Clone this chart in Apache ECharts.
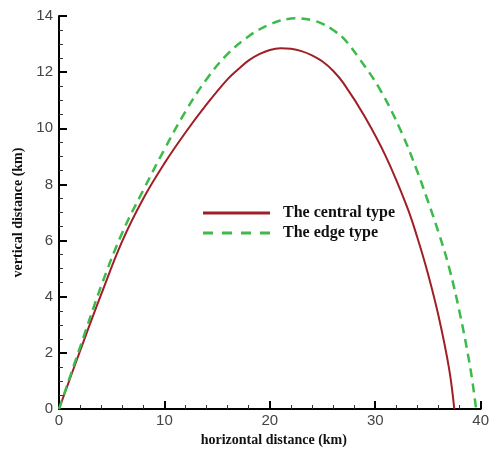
<!DOCTYPE html>
<html>
<head>
<meta charset="utf-8">
<script src="https://cdn.jsdelivr.net/npm/echarts@6/dist/echarts.min.js"></script>
<style>
  html, body { margin: 0; padding: 0; background: #fff; }
  #chart { width: 492px; height: 454px; }
</style>
</head>
<body>
<div id="chart"></div>
<script>
// Trajectory of the central type (horizontal km, vertical km)
const centralX = [0, 2, 4, 6, 8, 10, 12, 14, 16, 17, 18, 19, 20, 21, 22, 23, 24, 25, 26, 27, 29, 31, 33, 34, 35, 36, 37, 37.5];
const centralY = [0, 2.07, 4.08, 5.98, 7.5, 8.75, 9.85, 10.85, 11.75, 12.1, 12.42, 12.64, 12.79, 12.85, 12.83, 12.75, 12.6, 12.38, 12.05, 11.6, 10.42, 9.0, 7.22, 6.1, 4.82, 3.32, 1.45, 0];

// Trajectory of the edge type
const edgeX = [0, 2, 4, 6, 8, 10, 12, 14, 16, 18, 19, 20, 21, 22, 22.5, 23, 24, 25, 26, 27, 28.5, 30.5, 32.5, 34, 35, 36, 37, 38, 39, 39.57];
const edgeY = [0, 2.2, 4.38, 6.28, 7.8, 9.25, 10.6, 11.75, 12.65, 13.28, 13.52, 13.7, 13.84, 13.91, 13.92, 13.91, 13.85, 13.72, 13.5, 13.2, 12.48, 11.35, 9.85, 8.45, 7.4, 6.3, 5.05, 3.45, 1.5, 0];

const seriesNames = ['The central type', 'The edge type'];
const xTicks = { min: 0, max: 40, interval: 10 };
const yTicks = { min: 0, max: 14, interval: 2 };

const zip = (xs, ys) => xs.map((x, i) => [x, ys[i]]);

const RED = '#a01e26';
const GREEN = '#3dbb4a';

const serifBold = { fontFamily: 'Liberation Serif', fontWeight: 'bold', color: '#111' };
const axisCommon = {
  type: 'value',
  axisLine: { show: true, onZero: false, lineStyle: { color: '#000', width: 2 } },
  axisTick: { show: true, inside: true, length: 8, lineStyle: { color: '#000', width: 2 } },
  minorTick: { show: true, length: 4, lineStyle: { color: '#333', width: 1 } },
  splitLine: { show: false },
  axisLabel: { fontFamily: 'Liberation Sans', fontSize: 15, color: '#444' },
  nameLocation: 'middle',
  nameTextStyle: Object.assign({ fontSize: 14 }, serifBold)
};

// Legend glyphs: a solid bar and a four-dash bar
const solidIcon = 'path://M0,0h67v3h-67z';
const dashIcon = 'path://M0,0h10v3h-10zM19,0h10v3h-10zM38,0h10v3h-10zM57,0h10v3h-10z';

const chart = echarts.init(document.getElementById('chart'), null, { renderer: 'canvas' });
chart.setOption({
  animation: false,
  backgroundColor: '#fff',
  grid: { left: 59, right: 5, top: 16, bottom: 45, containLabel: false },
  xAxis: Object.assign({}, axisCommon, {
    min: xTicks.min, max: xTicks.max, interval: xTicks.interval,
    name: 'horizontal distance (km)', nameGap: 21,
    nameTextStyle: Object.assign({}, axisCommon.nameTextStyle, { padding: [0, 0, 0, 8] }),
    minorTick: Object.assign({}, axisCommon.minorTick, { splitNumber: 5 }),
    axisLabel: Object.assign({}, axisCommon.axisLabel, { margin: 4 })
  }),
  yAxis: Object.assign({}, axisCommon, {
    min: yTicks.min, max: yTicks.max, interval: yTicks.interval,
    name: 'vertical distance (km)', nameGap: 32,
    minorTick: Object.assign({}, axisCommon.minorTick, { splitNumber: 4 }),
    axisLabel: Object.assign({}, axisCommon.axisLabel, { margin: 6 })
  }),
  legend: {
    orient: 'vertical',
    left: 203, top: 205,
    padding: 0,
    itemWidth: 67, itemHeight: 3, itemGap: 4,
    textStyle: Object.assign({ fontSize: 16, lineHeight: 16, padding: [0, 0, 0, 8] }, serifBold),
    data: [
      { name: seriesNames[0], icon: solidIcon, itemStyle: { color: RED } },
      { name: seriesNames[1], icon: dashIcon, itemStyle: { color: GREEN } }
    ]
  },
  series: [
    {
      name: seriesNames[0], type: 'line', symbol: 'none', smooth: 0.4,
      data: zip(centralX, centralY),
      lineStyle: { color: RED, width: 2 },
      itemStyle: { color: RED }
    },
    {
      name: seriesNames[1], type: 'line', symbol: 'none', smooth: 0.4,
      data: zip(edgeX, edgeY),
      lineStyle: { color: GREEN, width: 2.5, type: [9, 6] },
      itemStyle: { color: GREEN }
    }
  ]
});
</script>
</body>
</html>
